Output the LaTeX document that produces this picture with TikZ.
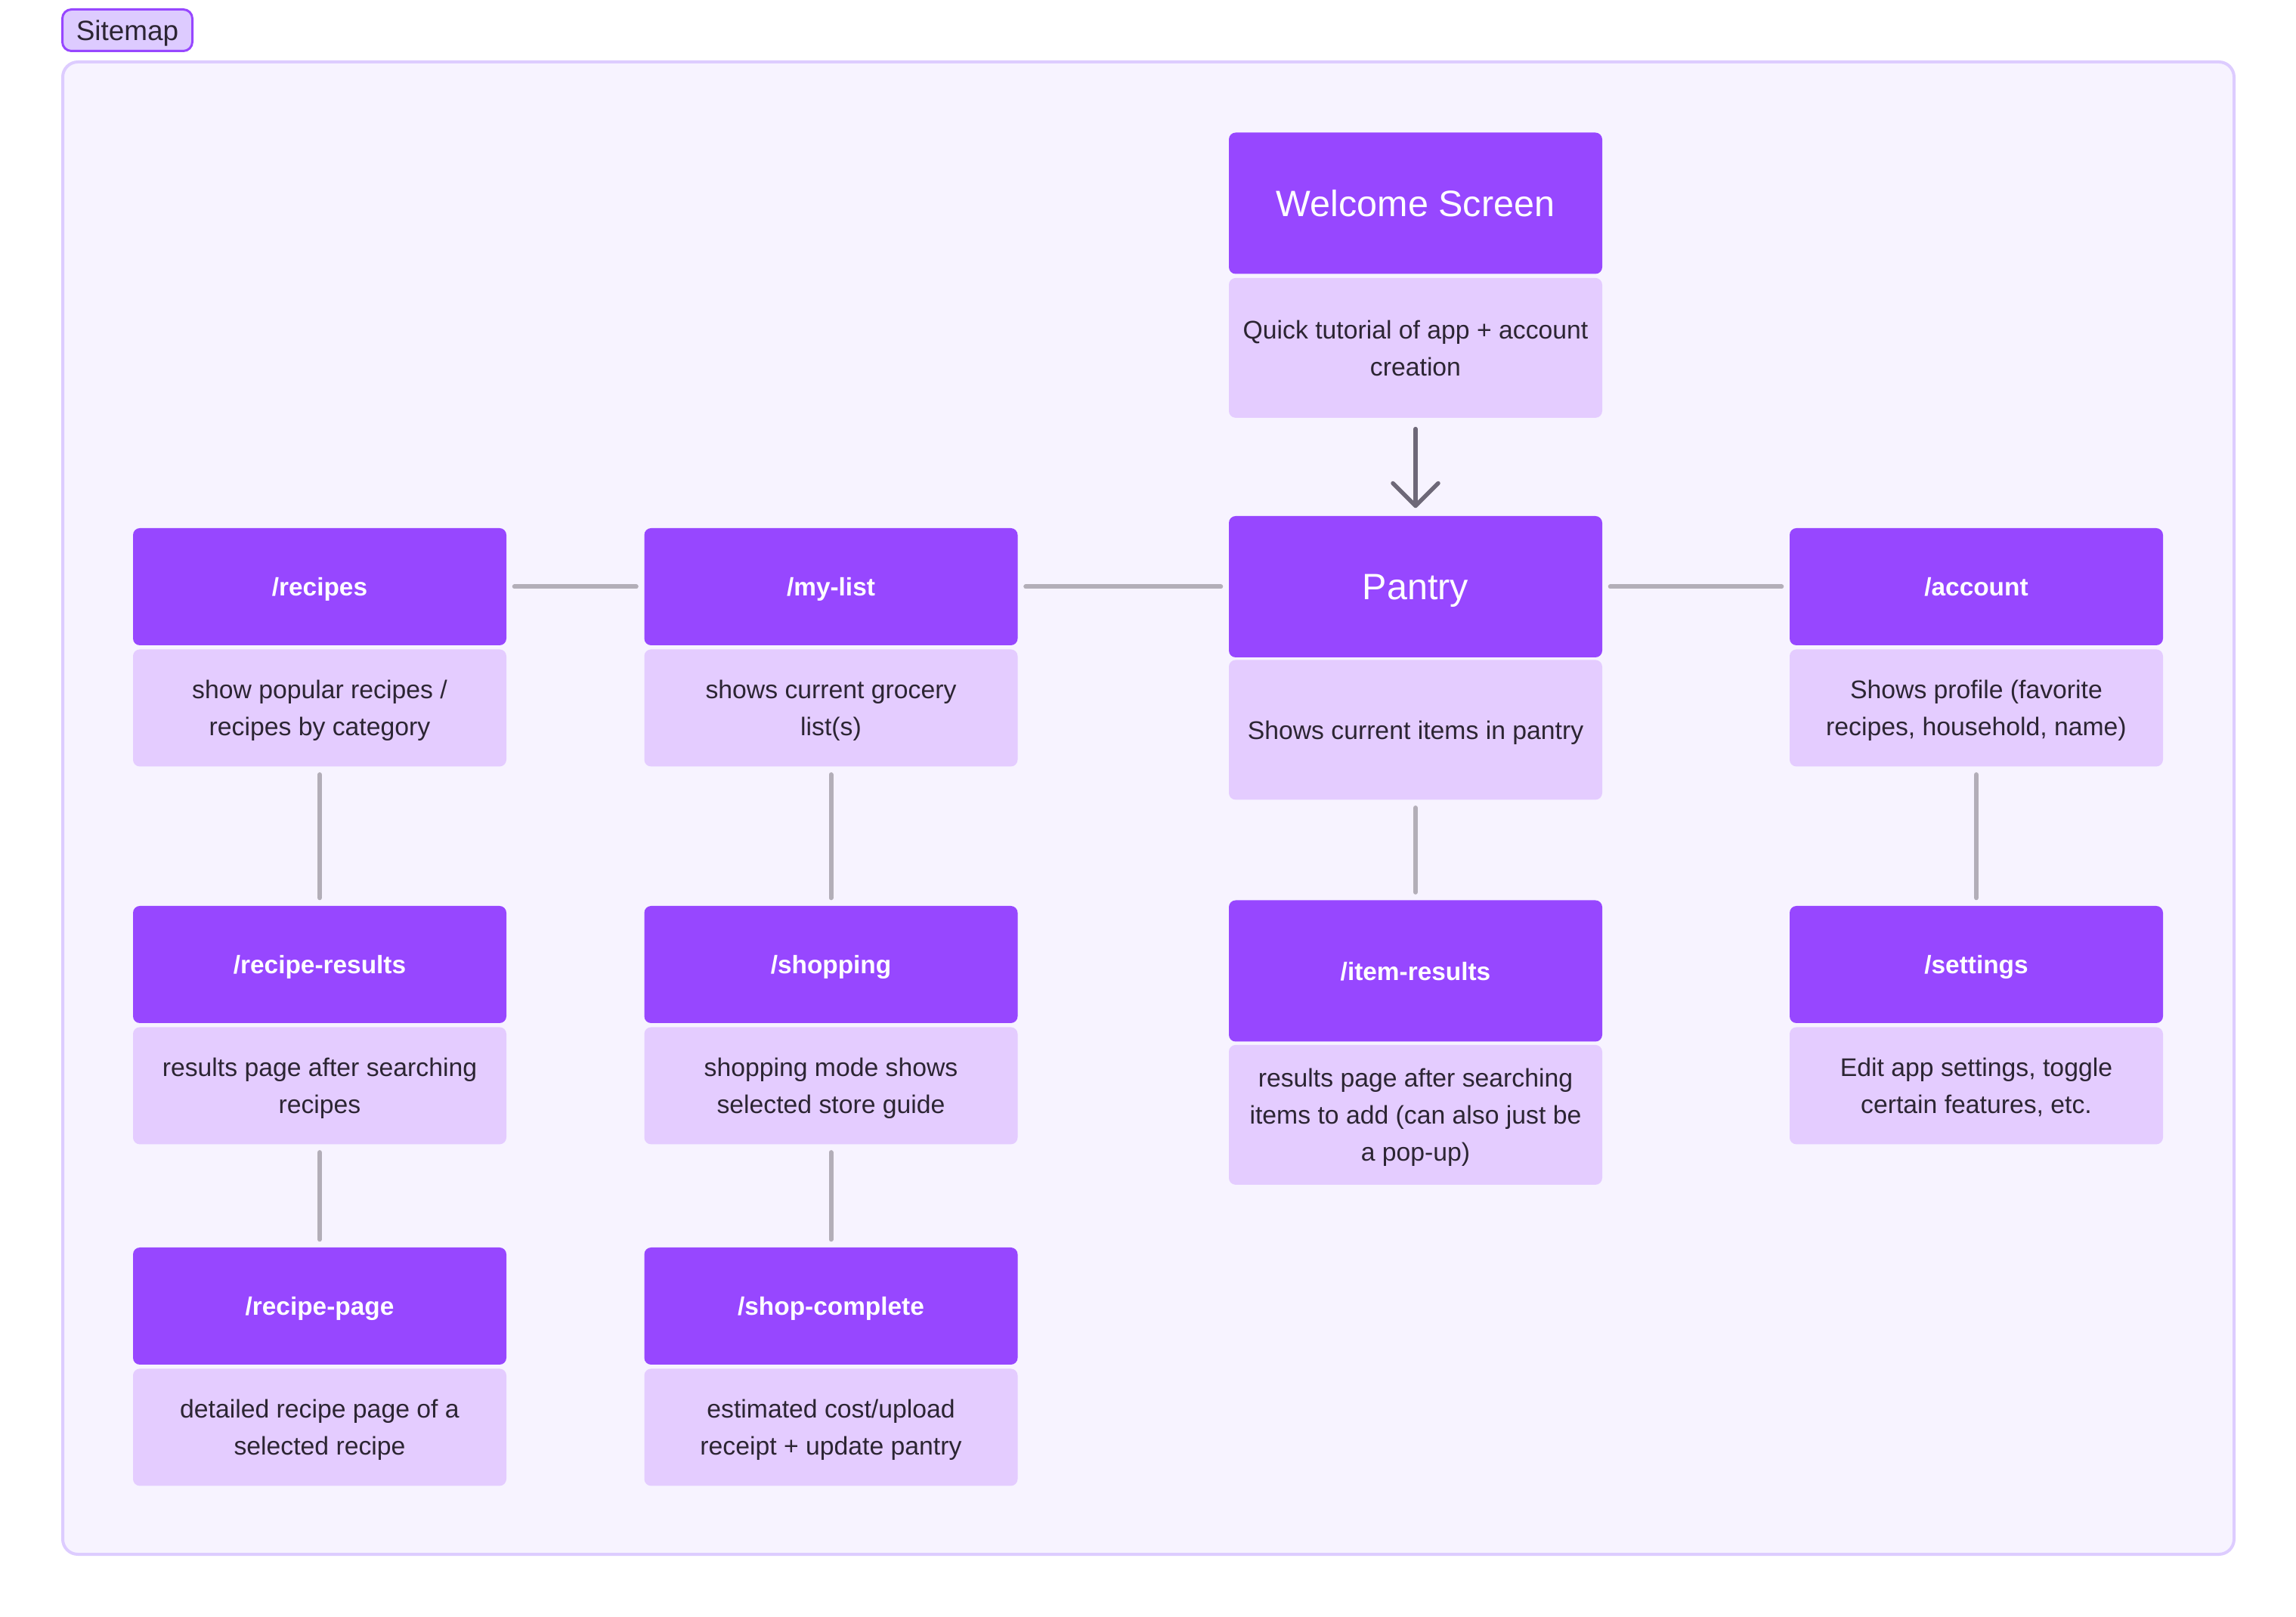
\documentclass[tikz,border=0pt]{standalone}
\usepackage{fontspec}
\setmainfont{Liberation Sans}
\usetikzlibrary{positioning,arrows.meta}

\definecolor{headpurple}{HTML}{9747FF}
\definecolor{infopurple}{HTML}{E4CCFF}
\definecolor{boardfill}{HTML}{F7F3FF}
\definecolor{boardline}{HTML}{DDCCFF}
\definecolor{tagfill}{HTML}{DDCBFF}
\definecolor{linkgray}{HTML}{B3AEB8}
\definecolor{arrowgray}{HTML}{6E6878}
\definecolor{ink}{HTML}{2C2533}

\tikzset{
  page/.style = {on grid, fill=headpurple, text=white, rounded corners=0.09cm,
    minimum width=4.94cm, minimum height=1.55cm, inner sep=0pt, text depth=0pt,
    font=\bfseries\fontsize{9.5}{12}\selectfont},
  bigpage/.style = {page, minimum height=1.87cm, font=\fontsize{13.8}{16}\selectfont},
  info/.style = {fill=infopurple, text=ink, rounded corners=0.09cm,
    minimum width=4.94cm, minimum height=1.55cm, inner sep=0pt, align=center,
    text depth=0pt, font=\fontsize{9.6}{13.9}\selectfont},
  biginfo/.style = {info, minimum height=1.85cm},
  tag/.style = {draw=headpurple, line width=0.03cm, fill=tagfill, rounded corners=0.12cm,
    minimum width=1.72cm, minimum height=0.55cm, inner sep=0pt, text=ink,
    text depth=0pt, font=\fontsize{10.5}{12}\selectfont},
  link/.style = {draw=linkgray, line width=0.06cm, line cap=round,
    shorten <=0.1cm, shorten >=0.1cm},
}

\begin{document}
\begin{tikzpicture}
   \useasboundingbox[fill=white] (0,0) rectangle (30.38,-21.40);
   \draw[draw=boardline, fill=boardfill, line width=0.04cm, rounded corners=0.2cm]
     (0.83,-0.82) rectangle (29.56,-20.57);
   \node[tag] (sitemap) at (1.685,-0.40) {Sitemap};

   % top row
   \node[page] (recipes) at (4.23,-7.765) {/recipes};
   \node[page] (mylist) [right = 6.765cm of recipes] {/my-list};
   \node[bigpage] (pantry) [right = 7.735cm of mylist] {Pantry};
   \node[page] (account) [right = 7.42cm of pantry] {/account};
   \node[bigpage] (welcome) [above = 5.075cm of pantry] {Welcome Screen};

   % second and third rows
   \node[page] (reciperesults) [below = 5cm of recipes] {/recipe-results};
   \node[page] (shopping) [below = 5cm of mylist] {/shopping};
   \node[bigpage, font=\bfseries\fontsize{9.5}{12}\selectfont] (itemresults) [below = 5.085cm of pantry] {/item-results};
   \node[page] (settings) [below = 5cm of account] {/settings};
   \node[page] (recipepage) [below = 4.52cm of reciperesults] {/recipe-page};
   \node[page] (shopcomplete) [below = 4.52cm of shopping] {/shop-complete};

   % descriptions
   \node[biginfo] (welcome_d) [below = 0.04cm of welcome] {Quick tutorial of app + account\\creation};
   \node[biginfo] (pantry_d) [below = 0.02cm of pantry] {Shows current items in pantry};
   \node[info] (recipes_d) [below = 0.04cm of recipes] {show popular recipes /\\recipes by category};
   \node[info] (mylist_d) [below = 0.04cm of mylist] {shows current grocery\\list(s)};
   \node[info] (account_d) [below = 0.04cm of account] {Shows profile (favorite\\recipes, household, name)};
   \node[info] (reciperesults_d) [below = 0.04cm of reciperesults] {results page after searching\\recipes};
   \node[info] (shopping_d) [below = 0.04cm of shopping] {shopping mode shows\\selected store guide};
   \node[biginfo] (itemresults_d) [below = 0.03cm of itemresults] {results page after searching\\items to add (can also just be\\a pop-up)};
   \node[info] (settings_d) [below = 0.04cm of settings] {Edit app settings, toggle\\certain features, etc.};
   \node[info] (recipepage_d) [below = 0.04cm of recipepage] {detailed recipe page of a\\selected recipe};
   \node[info] (shopcomplete_d) [below = 0.04cm of shopcomplete] {estimated cost/upload\\receipt + update pantry};

   \draw[arrowgray, line width=0.055cm, line cap=round, shorten <=0.14cm, shorten >=0.1cm,
     -{Straight Barb[length=0.3cm, width=0.6cm, round]}] (welcome_d) -- (pantry);

   \path[link]
    (recipes) edge (mylist)
    (mylist) edge (pantry)
    (pantry) edge (account)
    (recipes_d) edge (reciperesults)
    (reciperesults_d) edge (recipepage)
    (mylist_d) edge (shopping)
    (shopping_d) edge (shopcomplete)
    (pantry_d) edge (itemresults)
    (account_d) edge (settings);
\end{tikzpicture}
\end{document}
